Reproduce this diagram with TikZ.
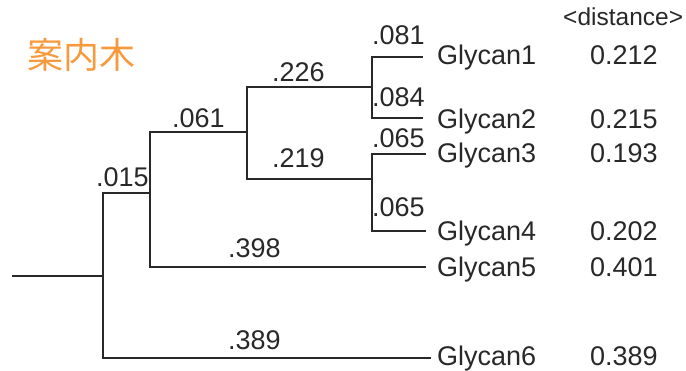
\documentclass[tikz,border=0pt]{standalone}
\usepackage{fontspec}
\setmainfont{Liberation Sans}
\newfontfamily\cjk{Noto Sans CJK JP}
\definecolor{ink}{RGB}{40,40,40}
\definecolor{titleorange}{RGB}{247,154,62}
\begin{document}
\begin{tikzpicture}[x=1pt,y=-1pt,
  branch/.style={draw=ink,line width=2pt,line cap=rect},
  lbl/.style={inner sep=0pt,anchor=base west,text=ink,font=\fontsize{27}{32}\selectfont},
  leaf/.style={lbl},
  dist/.style={lbl},
  hdr/.style={inner sep=0pt,anchor=base west,text=ink,font=\fontsize{24.5}{28}\selectfont},
  ttl/.style={inner sep=0pt,anchor=base west,text=titleorange,font=\cjk\fontsize{36}{40}\selectfont}]
\useasboundingbox (0,0) rectangle (686,371);
% title
\node[ttl] (title) at (27,69) {案内木};
\node[hdr] (hdr) at (563,26) {<distance>};
% tree points
\coordinate (r) at (13,276);
\coordinate (j0) at (103,276);
\coordinate (a) at (150,193);
\coordinate (b) at (247,132);
\coordinate (c) at (372,87);
\coordinate (d) at (372,179);
\coordinate (t1) at (422,57);
\coordinate (t2) at (422,118);
\coordinate (t3) at (425,154);
\coordinate (t4) at (425,231);
\coordinate (t5) at (425,267);
\coordinate (t6) at (430,358);
% branches
\draw[branch] (r) -- (j0);
\draw[branch] (j0) |- (a);
\draw[branch] (j0) |- (t6);
\draw[branch] (a) |- (b);
\draw[branch] (a) |- (t5);
\draw[branch] (b) |- (c);
\draw[branch] (b) |- (d);
\draw[branch] (c) |- (t1);
\draw[branch] (c) |- (t2);
\draw[branch] (d) |- (t3);
\draw[branch] (d) |- (t4);
% branch lengths
\node[lbl] (l1) at (372,45) {.081};
\node[lbl] (l2) at (372,107) {.084};
\node[lbl] (l3) at (372,148) {.065};
\node[lbl] (l4) at (372,217) {.065};
\node[lbl] (lc) at (272,82) {.226};
\node[lbl] (ld) at (272,168) {.219};
\node[lbl] (lb) at (172,128) {.061};
\node[lbl] (la) at (96,187) {.015};
\node[lbl] (l5) at (228,258) {.398};
\node[lbl] (l6) at (228,350) {.389};
% leaves
\node[leaf] (g1) at (437,65) {Glycan1};
\node[leaf] (g2) at (437,129) {Glycan2};
\node[leaf] (g3) at (437,163) {Glycan3};
\node[leaf] (g4) at (437,241) {Glycan4};
\node[leaf] (g5) at (437,277) {Glycan5};
\node[leaf] (g6) at (437,366) {Glycan6};
% distances
\node[dist] (d1) at (590,65) {0.212};
\node[dist] (d2) at (590,129) {0.215};
\node[dist] (d3) at (590,163) {0.193};
\node[dist] (d4) at (590,241) {0.202};
\node[dist] (d5) at (590,277) {0.401};
\node[dist] (d6) at (590,366) {0.389};
\end{tikzpicture}
\end{document}
